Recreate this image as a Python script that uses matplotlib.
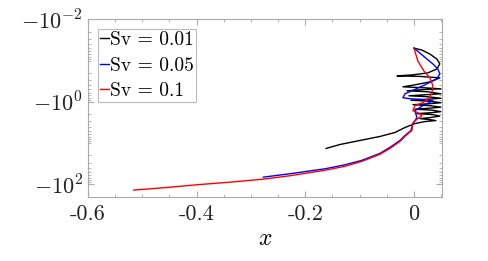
import numpy as np
import matplotlib
matplotlib.use('Agg')
import matplotlib.pyplot as plt
from matplotlib.ticker import FixedLocator, LogLocator, FuncFormatter, MultipleLocator, NullFormatter

plt.rcParams['font.family'] = 'cmr10'
plt.rcParams['mathtext.fontset'] = 'cm'
plt.rcParams['axes.unicode_minus'] = False

# trajectories: x and magnitude of the (negative) y value
x_001 = [0.000, 0.0147, 0.0294, 0.0422, 0.0477, 0.0422, 0.0257, -0.0037, -0.0312, 0.0110,
         0.0477, 0.0294, 0.0018, -0.0202, 0.0202, 0.0495, 0.0110, -0.0128, 0.0257, 0.0495,
         0.0202, -0.0092, 0.0257, 0.0495, 0.0257, -0.0055, 0.0294, 0.0495, 0.0294, -0.0018,
         0.0294, 0.0495, 0.0294, 0.0018, 0.0330, 0.0495, 0.0330, 0.0055, 0.0349, 0.0477,
         0.0294, 0.0110, 0.0294, 0.0404, 0.0202, 0.0018, -0.0165, -0.0349, -0.0624, -0.0991,
         -0.1358, -0.1615]
m_001 = [0.050, 0.0558, 0.0697, 0.092, 0.121, 0.160, 0.200, 0.224, 0.236, 0.243,
         0.264, 0.330, 0.389, 0.435, 0.460, 0.486, 0.514, 0.543, 0.574, 0.641,
         0.678, 0.717, 0.758, 0.823, 0.871, 0.920, 0.973, 1.057, 1.117, 1.181,
         1.248, 1.357, 1.434, 1.516, 1.602, 1.741, 1.841, 1.945, 2.056, 2.235,
         2.43, 2.57, 2.72, 2.87, 3.03, 3.39, 4.23, 5.58, 6.97, 8.71,
         10.9, 13.6]

x_005 = [0.000, 0.0110, 0.0239, 0.0349, 0.0440, 0.0477, 0.0422, 0.0202, -0.0037, -0.0165,
         -0.0202, -0.0073, 0.0110, 0.0349, 0.0165, 0.0018, 0.0055, -0.0018, -0.0055, -0.0165,
         -0.0257, -0.0440, -0.0624, -0.0954, -0.1266, -0.1633, -0.2275, -0.2771]
m_005 = [0.050, 0.066, 0.092, 0.121, 0.160, 0.211, 0.279, 0.389, 0.543, 0.641,
         0.801, 0.847, 0.871, 0.946, 1.248, 1.648, 2.43, 3.39, 5.0, 6.59,
         8.71, 12.8, 17.9, 26.4, 33.9, 42.4, 55.8, 67.8]

x_01 = [0.000, 0.0073, 0.0183, 0.0294, 0.0349, 0.0330, 0.0257, 0.0165, 0.0018, -0.0018,
        0.0073, 0.0147, 0.0073, -0.0018, -0.0037, -0.0128, -0.0257, -0.0440, -0.0624, -0.0954,
        -0.1266, -0.1633, -0.2275, -0.2771, -0.3376, -0.3963, -0.4569, -0.5156]
m_01 = [0.050, 0.103, 0.179, 0.264, 0.411, 0.641, 0.847, 1.057, 1.248, 1.648,
        1.841, 2.174, 2.57, 3.21, 5.0, 6.24, 9.20, 13.6, 18.9, 27.9,
        36.8, 46.0, 62.4, 75.8, 89.5, 102.8, 121.4, 139.6]

fig = plt.figure(figsize=(4.88, 2.61), dpi=100)
ax = fig.add_axes([0.180, 0.245, 0.725, 0.681])

ax.plot(x_001, m_001, color='black', lw=1.0, label='Sv = 0.01')
ax.plot(x_005, m_005, color='blue', lw=1.0, label='Sv = 0.05')
ax.plot(x_01, m_01, color='red', lw=1.0, label='Sv = 0.1')

ax.set_yscale('log')
ax.set_ylim(206, 0.01)
ax.set_xlim(-0.6, 0.051)

ax.xaxis.set_major_locator(FixedLocator([-0.6, -0.4, -0.2, 0]))
ax.xaxis.set_minor_locator(MultipleLocator(0.05))
ax.xaxis.set_major_formatter(FuncFormatter(lambda v, p: '0' if abs(v) < 1e-9 else '%.1f' % v))
ax.yaxis.set_major_locator(FixedLocator([0.01, 1, 100]))
ax.yaxis.set_minor_locator(LogLocator(base=10, subs=np.arange(1, 10), numticks=30))
ax.yaxis.set_major_formatter(FuncFormatter(lambda v, p: r'$-10^{%d}$' % round(np.log10(v))))
ax.yaxis.set_minor_formatter(NullFormatter())

for s in ax.spines.values():
    s.set_color('#aaaaaa')
ax.tick_params(which='both', direction='in', top=True, right=True, color='#aaaaaa',
               labelsize=16, labelcolor='#222222')
ax.tick_params(which='major', length=4)
ax.tick_params(which='minor', length=2)
ax.tick_params(axis='x', pad=5)

ax.set_xlabel('$x$', fontsize=17, labelpad=3)

# legend in the upper left corner, short handles
leg = ax.legend(loc='upper left', fontsize=14, frameon=True, fancybox=False,
                handlelength=0.5, handletextpad=0.05, borderpad=0.1, labelspacing=0.4,
                borderaxespad=0.5)
leg.get_frame().set_edgecolor('#aaaaaa')
leg.get_frame().set_linewidth(0.8)

fig.savefig('out.png', dpi=100)
